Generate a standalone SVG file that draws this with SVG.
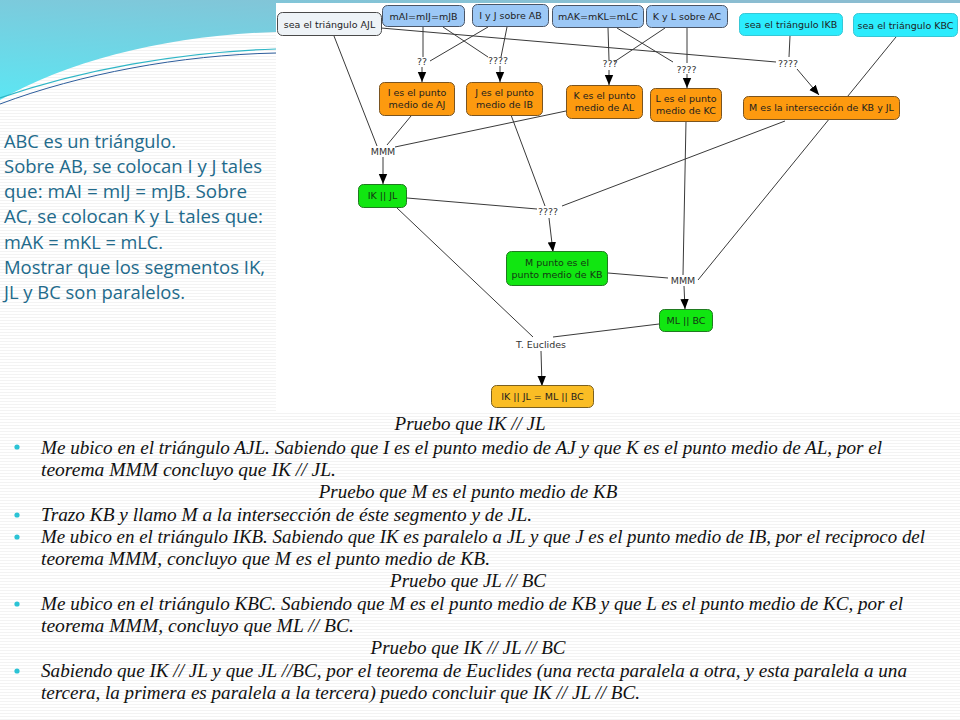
<svg xmlns="http://www.w3.org/2000/svg" width="960" height="720" viewBox="0 0 960 720">
<defs>
<pattern id="tex" width="4" height="3" patternUnits="userSpaceOnUse">
<rect width="4" height="3" fill="#ffffff"/>
<rect y="2" width="4" height="1" fill="#f3f3f3"/>
</pattern>
<linearGradient id="sw" x1="0.7" y1="0" x2="0" y2="1">
<stop offset="0" stop-color="#8bbdd1"/>
<stop offset="1" stop-color="#5ce6f3"/>
</linearGradient>
<marker id="arr" markerUnits="userSpaceOnUse" markerWidth="10" markerHeight="10" viewBox="0 0 10 10" refX="10" refY="5" orient="auto">
<path d="M0,0.8 L10,5 L0,9.2 Z" fill="#000"/>
</marker>
<style>
.n{stroke-width:1}
.wt{fill:#eef3f7;stroke:#4a4a4a}
.bl{fill:#9cc8f6;stroke:#4a5566}
.cy{fill:#2cecfd;stroke:#36c8d6}
.or{fill:#fd9a0f;stroke:#7a5420}
.gr{fill:#11e611;stroke:#207a20}
.gd{fill:#fabd25;stroke:#7a6020}
.t{font-family:"DejaVu Sans",Verdana,sans-serif;font-size:9.5px;fill:#1e1e1e;text-anchor:middle}
.tg{fill:#143614}
.lb{font-family:"DejaVu Sans",Verdana,sans-serif;font-size:9.5px;fill:#333;text-anchor:middle}
.c line{stroke:#3a3a3a;stroke-width:1;fill:none}
.c line.a{marker-end:url(#arr)}
.lt{font-family:"Open Sans","Lato",sans-serif;font-size:17.5px;fill:#226a8b}
.bt{font-family:"Liberation Serif","Times New Roman",serif;font-style:italic;font-size:19px;fill:#111}
.ct{text-anchor:middle}
.bu{fill:#2bc3d5}
</style>
</defs>
<rect width="960" height="720" fill="url(#tex)"/>
<path d="M0,0 L960,0 L960,3 L276,3 L276,32 C170,35 70,60 0,100 Z" fill="url(#sw)"/>
<path d="M0,98 C80,70 180,52 276,49" fill="none" stroke="#2fb6c6" stroke-width="1.2"/>
<path d="M0,104 C80,74 180,55 276,53" fill="none" stroke="#2d5d9c" stroke-width="1"/>
<rect x="276" y="3" width="684" height="408" fill="#ffffff"/>

<g id="left-text" class="lt">
<text x="4" y="148" textLength="172" lengthAdjust="spacingAndGlyphs">ABC es un triángulo.</text>
<text x="4" y="173" textLength="258" lengthAdjust="spacingAndGlyphs">Sobre AB, se colocan I y J tales</text>
<text x="4" y="198" textLength="243" lengthAdjust="spacingAndGlyphs">que: mAI = mIJ = mJB. Sobre</text>
<text x="4" y="223" textLength="259" lengthAdjust="spacingAndGlyphs">AC, se colocan K y L tales que:</text>
<text x="4" y="249" textLength="159" lengthAdjust="spacingAndGlyphs">mAK = mKL = mLC.</text>
<text x="4" y="274" textLength="261" lengthAdjust="spacingAndGlyphs">Mostrar que los segmentos  IK,</text>
<text x="4" y="299" textLength="181" lengthAdjust="spacingAndGlyphs">JL y BC  son paralelos.</text>
</g>

<g id="connectors" class="c">
<line x1="334" y1="36" x2="377" y2="146"/>
<line x1="381" y1="28" x2="776" y2="62"/>
<line x1="423" y1="27" x2="423" y2="57"/>
<line class="a" x1="422" y1="67" x2="422" y2="82"/>
<line x1="443" y1="27" x2="488" y2="57"/>
<line x1="488" y1="27" x2="430" y2="61"/>
<line x1="507" y1="27" x2="501" y2="57"/>
<line class="a" x1="500" y1="66" x2="500" y2="82"/>
<line x1="608" y1="28" x2="609" y2="60"/>
<line x1="665" y1="28" x2="614" y2="62"/>
<line class="a" x1="609" y1="70" x2="609" y2="85"/>
<line x1="617" y1="28" x2="673" y2="62"/>
<line x1="687" y1="28" x2="687" y2="63"/>
<line class="a" x1="687" y1="74" x2="687" y2="88"/>
<line x1="790" y1="36" x2="789" y2="57"/>
<line class="a" x1="797" y1="69" x2="819" y2="95"/>
<line x1="896" y1="37" x2="698" y2="280"/>
<line x1="411" y1="116" x2="387" y2="145"/>
<line x1="566" y1="111" x2="395" y2="147"/>
<line class="a" x1="383" y1="157" x2="383" y2="184"/>
<line x1="511" y1="115" x2="545" y2="206"/>
<line x1="785" y1="121" x2="562" y2="206"/>
<line x1="407" y1="198" x2="537" y2="209"/>
<line class="a" x1="549" y1="218" x2="553" y2="252"/>
<line x1="686" y1="121" x2="683" y2="275"/>
<line x1="608" y1="273" x2="668" y2="278"/>
<line class="a" x1="684" y1="286" x2="685" y2="309"/>
<line x1="397" y1="208" x2="533" y2="337"/>
<line x1="659" y1="324" x2="553" y2="337"/>
<line class="a" x1="541" y1="351" x2="542" y2="386"/>
</g>

<g id="link-labels">
<text class="lb" x="422" y="65">??</text>
<text class="lb" x="498" y="64">????</text>
<text class="lb" x="610" y="67">???</text>
<text class="lb" x="686.5" y="72.5">????</text>
<text class="lb" x="788" y="67">????</text>
<text class="lb" x="383" y="155">MMM</text>
<text class="lb" x="548" y="215">????</text>
<text class="lb" x="683" y="283.5">MMM</text>
<text class="lb" x="541" y="347.5">T. Euclides</text>
</g>

<g id="n-ajl"><rect class="n wt" x="277.5" y="12.5" width="104" height="23" rx="5"/><text class="t" x="329.5" y="27.5">sea el triángulo AJL</text></g>
<g id="n-mai"><rect class="n bl" x="382.5" y="5.5" width="82" height="21" rx="5"/><text class="t" x="423.5" y="19.5">mAI=mIJ=mJB</text></g>
<g id="n-ij"><rect class="n bl" x="472.5" y="4.5" width="76" height="22" rx="5"/><text class="t" x="510.5" y="19">I y J sobre AB</text></g>
<g id="n-mak"><rect class="n bl" x="552.5" y="5.5" width="91" height="22" rx="5"/><text class="t" x="598" y="20">mAK=mKL=mLC</text></g>
<g id="n-kl"><rect class="n bl" x="646.5" y="5.5" width="81" height="22" rx="5"/><text class="t" x="687" y="20">K y L sobre AC</text></g>
<g id="n-ikb"><rect class="n cy" x="739.5" y="13.5" width="103" height="22" rx="5"/><text class="t" x="791" y="28">sea el triángulo IKB</text></g>
<g id="n-kbc"><rect class="n cy" x="853.5" y="13.5" width="104" height="23" rx="5"/><text class="t" x="905.5" y="28.5">sea el triángulo KBC</text></g>

<g id="n-ies"><rect class="n or" x="379.5" y="82.5" width="75" height="33" rx="5"/><text class="t" x="417" y="95.5">I es el punto</text><text class="t" x="417" y="107.5">medio de AJ</text></g>
<g id="n-jes"><rect class="n or" x="466.5" y="82.5" width="76" height="33" rx="5"/><text class="t" x="504.5" y="95.5">J es el punto</text><text class="t" x="504.5" y="107.5">medio de IB</text></g>
<g id="n-kes"><rect class="n or" x="566.5" y="85.5" width="76" height="33" rx="5"/><text class="t" x="604.5" y="98.5">K es el punto</text><text class="t" x="604.5" y="110.5">medio de AL</text></g>
<g id="n-les"><rect class="n or" x="650.5" y="88.5" width="71" height="33" rx="5"/><text class="t" x="686" y="102">L es el punto</text><text class="t" x="686" y="114">medio de KC</text></g>
<g id="n-mes"><rect class="n or" x="743.5" y="96.5" width="156" height="23" rx="5"/><text class="t" x="821.5" y="111">M es la intersección de KB y JL</text></g>

<g id="n-ikjl"><rect class="n gr" x="358.5" y="184.5" width="48" height="23" rx="5"/><text class="t tg" x="382.5" y="199">IK || JL</text></g>
<g id="n-mpunto"><rect class="n gr" x="506.5" y="251.5" width="101" height="34" rx="5"/><text class="t tg" x="557" y="266">M punto es el</text><text class="t tg" x="557" y="278">punto medio de KB</text></g>
<g id="n-mlbc"><rect class="n gr" x="659.5" y="309.5" width="53" height="22" rx="5"/><text class="t tg" x="686" y="324">ML || BC</text></g>
<g id="n-final"><rect class="n gd" x="491.5" y="385.5" width="102" height="22" rx="5"/><text class="t" x="542.5" y="400">IK || JL = ML || BC</text></g>

<g id="bottom-text" class="bt">
<text class="ct" x="470" y="430">Pruebo que IK // JL</text>
<circle class="bu" cx="17" cy="447" r="2.6"/>
<text x="41" y="454" textLength="841" lengthAdjust="spacingAndGlyphs">Me ubico en el triángulo AJL. Sabiendo que I es el punto medio de AJ y que K es el punto medio de AL, por el</text>
<text x="41" y="476" textLength="295" lengthAdjust="spacingAndGlyphs">teorema MMM concluyo que IK // JL.</text>
<text class="ct" x="468" y="498">Pruebo que M es el punto medio de KB</text>
<circle class="bu" cx="17" cy="515" r="2.6"/>
<text x="41" y="521" textLength="491" lengthAdjust="spacingAndGlyphs">Trazo  KB y llamo M a la intersección de éste segmento y de JL.</text>
<circle class="bu" cx="17" cy="537" r="2.6"/>
<text x="41" y="543" textLength="884" lengthAdjust="spacingAndGlyphs">Me ubico en el triángulo IKB. Sabiendo que IK es paralelo a JL y que J es el punto medio de IB, por el reciproco del</text>
<text x="41" y="565" textLength="449" lengthAdjust="spacingAndGlyphs">teorema MMM, concluyo que M es el punto medio de KB.</text>
<text class="ct" x="468" y="587">Pruebo que JL // BC</text>
<circle class="bu" cx="17" cy="604" r="2.6"/>
<text x="41" y="610" textLength="862" lengthAdjust="spacingAndGlyphs">Me ubico en el triángulo KBC. Sabiendo que M es el punto medio de KB y que L es el punto medio de KC, por el</text>
<text x="41" y="632" textLength="313" lengthAdjust="spacingAndGlyphs">teorema MMM, concluyo que ML // BC.</text>
<text class="ct" x="468" y="654">Pruebo que IK // JL // BC</text>
<circle class="bu" cx="17" cy="671" r="2.6"/>
<text x="41" y="677" textLength="866" lengthAdjust="spacingAndGlyphs">Sabiendo que IK // JL y que JL //BC, por el teorema de Euclides (una recta paralela a otra, y esta paralela a una</text>
<text x="41" y="699" textLength="599" lengthAdjust="spacingAndGlyphs">tercera, la primera es paralela a la tercera) puedo concluir que IK // JL // BC.</text>
</g>
</svg>
